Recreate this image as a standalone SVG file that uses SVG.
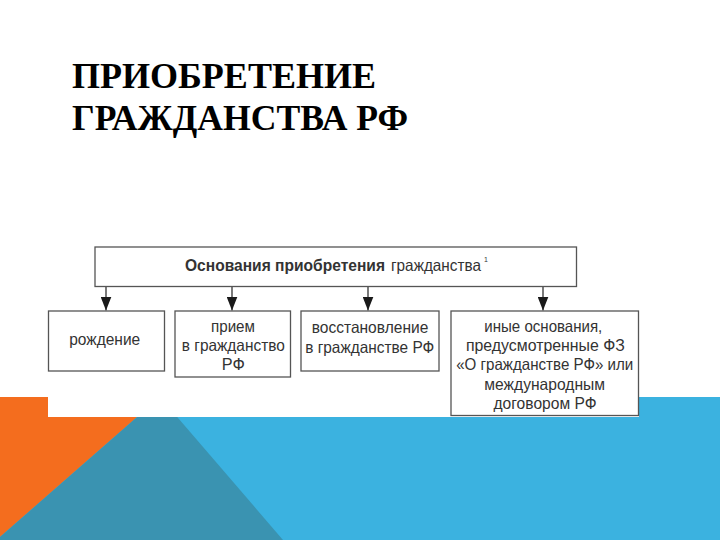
<svg xmlns="http://www.w3.org/2000/svg" width="720" height="540" viewBox="0 0 720 540">
  <defs>
    <marker id="arrow" viewBox="0 0 14 11" refX="14" refY="5.5" markerWidth="14" markerHeight="11" markerUnits="userSpaceOnUse" orient="auto">
      <path d="M0,0 L14,5.5 L0,11 Z" fill="#1a1a1a"/>
    </marker>
    <style>
      .title { font-family: "Liberation Serif", "Times New Roman", serif; font-weight: bold; font-size: 36px; fill: #000; }
      .box { fill: #fff; stroke: #555; stroke-width: 1.3; }
      .lbl { font-family: "Liberation Sans", Arial, sans-serif; font-size: 16.5px; fill: #333; text-anchor: middle; }
      .hdr { font-family: "Liberation Sans", Arial, sans-serif; font-size: 16.5px; fill: #333; }
      .sup { font-size: 7px; }
      .conn { stroke: #333; stroke-width: 1.3; fill: none; }
    </style>
  </defs>

  <!-- background -->
  <rect x="0" y="0" width="720" height="540" fill="#ffffff"/>
  <rect x="0" y="397" width="720" height="143" fill="#3bb2e0"/>
  <polygon points="0,397 160,397 0,537" fill="#f46d1e"/>
  <polygon points="160,397 0,537 0,540 283,540" fill="#3a93b1"/>
  <rect x="48" y="236" width="591" height="181" fill="#ffffff"/>

  <!-- slide title -->
  <text class="title" x="72" y="88" textLength="304" lengthAdjust="spacingAndGlyphs">ПРИОБРЕТЕНИЕ</text>
  <text class="title" x="72" y="130" textLength="336" lengthAdjust="spacingAndGlyphs">ГРАЖДАНСТВА РФ</text>

  <!-- connectors -->
  <g id="connectors">
    <line class="conn" x1="106" y1="286.5" x2="106" y2="310.5" marker-end="url(#arrow)"/>
    <line class="conn" x1="232" y1="286.5" x2="232" y2="310.5" marker-end="url(#arrow)"/>
    <line class="conn" x1="368" y1="286.5" x2="368" y2="310.5" marker-end="url(#arrow)"/>
    <line class="conn" x1="543" y1="286.5" x2="543" y2="310.5" marker-end="url(#arrow)"/>
  </g>

  <g id="node-root">
    <rect class="box" x="95" y="247" width="481.5" height="39.5"/>
    <text class="hdr" x="185" y="271" font-weight="bold" textLength="200" lengthAdjust="spacingAndGlyphs">Основания приобретения</text>
    <text class="hdr" x="391" y="271"><tspan textLength="90" lengthAdjust="spacingAndGlyphs">гражданства</tspan><tspan class="sup" x="484" y="262">1</tspan></text>
  </g>

  <g id="node-birth">
    <rect class="box" x="48.5" y="311" width="116" height="60"/>
    <text class="lbl" x="104.7" y="344.5" textLength="71" lengthAdjust="spacingAndGlyphs">рождение</text>
  </g>

  <g id="node-admission">
    <rect class="box" x="175" y="311" width="115.5" height="66"/>
    <text class="lbl" x="233" y="332" textLength="44" lengthAdjust="spacingAndGlyphs">прием</text>
    <text class="lbl" x="233.3" y="351" textLength="103" lengthAdjust="spacingAndGlyphs">в гражданство</text>
    <text class="lbl" x="233.3" y="370" textLength="23" lengthAdjust="spacingAndGlyphs">РФ</text>
  </g>

  <g id="node-restoration">
    <rect class="box" x="301" y="311" width="138" height="60"/>
    <text class="lbl" x="370" y="333" textLength="116.6" lengthAdjust="spacingAndGlyphs">восстановление</text>
    <text class="lbl" x="369.7" y="353" textLength="129" lengthAdjust="spacingAndGlyphs">в гражданстве РФ</text>
  </g>

  <g id="node-other">
    <rect class="box" x="451" y="311" width="187.5" height="104.5"/>
    <text class="lbl" x="543.3" y="332" textLength="118" lengthAdjust="spacingAndGlyphs">иные основания,</text>
    <text class="lbl" x="545.4" y="351" textLength="159" lengthAdjust="spacingAndGlyphs">предусмотренные ФЗ</text>
    <text class="lbl" x="544.7" y="370" textLength="177" lengthAdjust="spacingAndGlyphs">«О гражданстве РФ» или</text>
    <text class="lbl" x="544.7" y="389.5" textLength="120.7" lengthAdjust="spacingAndGlyphs">международным</text>
    <text class="lbl" x="545" y="408.5" textLength="103" lengthAdjust="spacingAndGlyphs">договором РФ</text>
  </g>
</svg>
